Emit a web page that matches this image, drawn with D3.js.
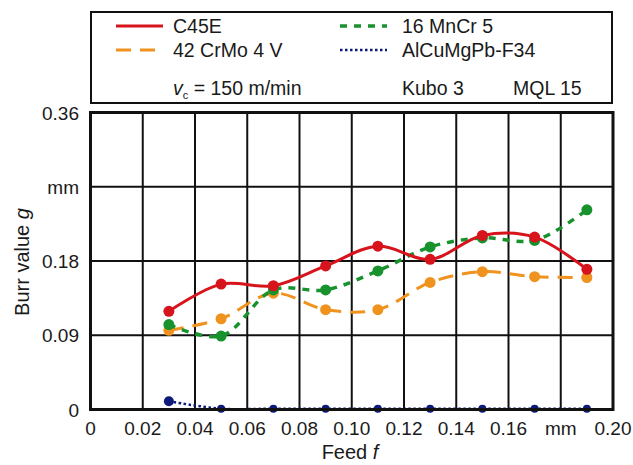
<!DOCTYPE html>
<html>
<head>
<meta charset="utf-8">
<script src="https://cdn.jsdelivr.net/npm/d3@7"></script>
<style>
  body { margin: 0; background: #fff; }
  svg text { font-family: "Liberation Sans", Arial, sans-serif; fill: #1a1a1a; }
</style>
</head>
<body>
<div id="vis"></div>
<script>
var width = 633;
var height = 465;

// feed f in mm
var feeds = [0.03, 0.05, 0.07, 0.09, 0.11, 0.13, 0.15, 0.17, 0.19];
// burr value g in mm
var c45e = [0.119, 0.152, 0.150, 0.174, 0.198, 0.182, 0.211, 0.209, 0.170];
var crmo = [0.096, 0.110, 0.141, 0.121, 0.121, 0.154, 0.167, 0.161, 0.160];
var mncr = [0.103, 0.089, 0.145, 0.145, 0.168, 0.197, 0.208, 0.205, 0.242];
var alcu = [0.010, 0.001, 0.001, 0.001, 0.001, 0.001, 0.001, 0.001, 0.001];

var xTicks = [0, 0.02, 0.04, 0.06, 0.08, 0.10, 0.12, 0.14, 0.16, 0.18, 0.20];
var xTickLabels = ['0', '0.02', '0.04', '0.06', '0.08', '0.10', '0.12', '0.14', '0.16', 'mm', '0.20'];
var yTicks = [0, 0.09, 0.18, 0.27, 0.36];
var yTickLabels = ['0', '0.09', '0.18', 'mm', '0.36'];

var series = [
  { name: 'C45E', values: c45e, color: '#d7141c', dash: null, width: 3, r: 5.5 },
  { name: '42 CrMo 4 V', values: crmo, color: '#f0921e', dash: '15,9', width: 3, r: 5.5 },
  { name: '16 MnCr 5', values: mncr, color: '#17922d', dash: '7,7', width: 3.5, r: 5.5 },
  { name: 'AlCuMgPb-F34', values: alcu, color: '#0d1a7a', dash: '2.5,2.5', width: 2.5, r: 4 }
];

var x = d3.scaleLinear().domain([0, 0.2]).range([90.5, 613]);
var y = d3.scaleLinear().domain([0, 0.36]).range([409.5, 112.5]);

var svg = d3.select('#vis')
  .append('svg')
  .attr('width', width)
  .attr('height', height);

// grid
svg.append('g')
  .selectAll('line')
  .data(xTicks.slice(1, -1))
  .enter().append('line')
  .attr('x1', function (d) { return x(d); })
  .attr('x2', function (d) { return x(d); })
  .attr('y1', y(0))
  .attr('y2', y(0.36))
  .attr('stroke', '#111')
  .attr('stroke-width', 2);

svg.append('g')
  .selectAll('line')
  .data(yTicks.slice(1, -1))
  .enter().append('line')
  .attr('y1', function (d) { return y(d); })
  .attr('y2', function (d) { return y(d); })
  .attr('x1', x(0))
  .attr('x2', x(0.2))
  .attr('stroke', '#111')
  .attr('stroke-width', 2);

// series
var line = d3.line()
  .x(function (d, i) { return x(feeds[i]); })
  .y(function (d) { return y(d); })
  .curve(d3.curveCatmullRom.alpha(0.5));

var drawOrder = [series[3], series[1], series[2], series[0]];

drawOrder.forEach(function (s) {
  var g = svg.append('g');
  g.append('path')
    .datum(s.values)
    .attr('d', line)
    .attr('fill', 'none')
    .attr('stroke', s.color)
    .attr('stroke-width', s.width)
    .attr('stroke-dasharray', s.dash);
  g.selectAll('circle')
    .data(s.values)
    .enter().append('circle')
    .attr('cx', function (d, i) { return x(feeds[i]); })
    .attr('cy', function (d) { return y(d); })
    .attr('r', function (d, i) { return (s.name === 'AlCuMgPb-F34' && i === 0) ? 5 : s.r; })
    .attr('fill', s.color);
});

// frame
svg.append('rect')
  .attr('x', x(0))
  .attr('y', y(0.36))
  .attr('width', x(0.2) - x(0))
  .attr('height', y(0) - y(0.36))
  .attr('fill', 'none')
  .attr('stroke', '#111')
  .attr('stroke-width', 3);

// tick labels
svg.append('g')
  .selectAll('text')
  .data(xTicks)
  .enter().append('text')
  .attr('x', function (d) { return x(d); })
  .attr('y', 435)
  .attr('text-anchor', 'middle')
  .style('font-size', '19px')
  .text(function (d, i) { return xTickLabels[i]; });

svg.append('g')
  .selectAll('text')
  .data(yTicks)
  .enter().append('text')
  .attr('x', 79)
  .attr('y', function (d) { return y(d) + 7; })
  .attr('text-anchor', 'end')
  .style('font-size', '19px')
  .text(function (d, i) { return yTickLabels[i]; });

// axis titles
var xTitle = svg.append('text')
  .attr('x', 350)
  .attr('y', 459)
  .attr('text-anchor', 'middle')
  .style('font-size', '20px');
xTitle.append('tspan').text('Feed ');
xTitle.append('tspan').style('font-style', 'italic').text('f');

var yTitle = svg.append('text')
  .attr('transform', 'translate(29,262) rotate(-90)')
  .attr('text-anchor', 'middle')
  .style('font-size', '20px');
yTitle.append('tspan').text('Burr value ');
yTitle.append('tspan').style('font-style', 'italic').text('g');

// legend
var legend = svg.append('g');
legend.append('rect')
  .attr('x', 91)
  .attr('y', 12)
  .attr('width', 521)
  .attr('height', 91)
  .attr('fill', '#fff')
  .attr('stroke', '#111')
  .attr('stroke-width', 2);

var legendPos = [
  { x: 116, y: 26, tx: 173 },
  { x: 116, y: 50, tx: 173 },
  { x: 340, y: 26, tx: 402 },
  { x: 340, y: 50, tx: 402 }
];

series.forEach(function (s, i) {
  var p = legendPos[i];
  legend.append('line')
    .attr('x1', p.x)
    .attr('x2', p.x + 47)
    .attr('y1', p.y)
    .attr('y2', p.y)
    .attr('stroke', s.color)
    .attr('stroke-width', s.width)
    .attr('stroke-dasharray', s.dash);
  legend.append('text')
    .attr('x', p.tx)
    .attr('y', p.y + 7)
    .style('font-size', '19.5px')
    .text(s.name);
});

var vc = legend.append('text')
  .attr('x', 173)
  .attr('y', 95)
  .style('font-size', '19.5px');
vc.append('tspan').style('font-style', 'italic').text('v');
vc.append('tspan').attr('dy', 4).style('font-size', '11px').text('c');
vc.append('tspan').attr('dy', -4).text(' = 150 m/min');

legend.append('text')
  .attr('x', 402)
  .attr('y', 95)
  .style('font-size', '19.5px')
  .text('Kubo 3');

legend.append('text')
  .attr('x', 513)
  .attr('y', 95)
  .style('font-size', '19.5px')
  .text('MQL 15');
</script>
</body>
</html>
